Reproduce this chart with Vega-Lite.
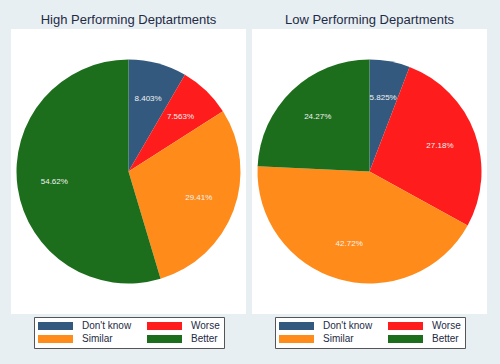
{
  "$schema": "https://vega.github.io/schema/vega-lite/v6.json",
  "background": "#e8eff2",
  "padding": {"left": 11, "top": 14, "right": 13, "bottom": 15},
  "datasets": {
    "high": [
      {"cat": "Don't know", "k": 1, "pct": 8.403, "lbl": "8.403%"},
      {"cat": "Worse", "k": 2, "pct": 7.563, "lbl": "7.563%"},
      {"cat": "Similar", "k": 3, "pct": 29.41, "lbl": "29.41%"},
      {"cat": "Better", "k": 4, "pct": 54.62, "lbl": "54.62%"}
    ],
    "low": [
      {"cat": "Don't know", "k": 1, "pct": 5.825, "lbl": "5.825%"},
      {"cat": "Worse", "k": 2, "pct": 27.18, "lbl": "27.18%"},
      {"cat": "Similar", "k": 3, "pct": 42.72, "lbl": "42.72%"},
      {"cat": "Better", "k": 4, "pct": 24.27, "lbl": "24.27%"}
    ]
  },
  "spacing": 6,
  "hconcat": [
    {
      "width": 235, "height": 285,
      "view": {"fill": "white", "stroke": null},
      "title": "High Performing Deptartments",
      "data": {"name": "high"},
      "encoding": {
        "theta": {"field": "pct", "type": "quantitative", "stack": true},
        "order": {"field": "k", "type": "quantitative"}
      },
      "layer": [
        {
          "mark": {"type": "arc", "outerRadius": 112},
          "encoding": {
            "color": {
              "field": "cat", "type": "nominal",
              "scale": {"domain": ["Don't know", "Worse", "Similar", "Better"], "range": ["#335a7e", "#ff1c1c", "#ff8c1a", "#1c6e1c"]},
              "legend": {"orient": "none", "legendX": 23, "legendY": 288}
            }
          }
        },
        {
          "mark": {"type": "text", "radius": 75, "fontSize": 8, "font": "Liberation Sans", "fill": "#f2f2f2"},
          "encoding": {"detail": {"field": "cat"}, "text": {"field": "lbl"}}
        }
      ]
    },
    {
      "width": 235, "height": 285,
      "view": {"fill": "white", "stroke": null},
      "title": "Low Performing Departments",
      "data": {"name": "low"},
      "encoding": {
        "theta": {"field": "pct", "type": "quantitative", "stack": true},
        "order": {"field": "k", "type": "quantitative"}
      },
      "layer": [
        {
          "mark": {"type": "arc", "outerRadius": 112},
          "encoding": {
            "color": {
              "field": "cat", "type": "nominal",
              "scale": {"domain": ["Don't know", "Worse", "Similar", "Better"], "range": ["#335a7e", "#ff1c1c", "#ff8c1a", "#1c6e1c"]},
              "legend": {"orient": "none", "legendX": 23, "legendY": 288}
            }
          }
        },
        {
          "mark": {"type": "text", "radius": 75, "fontSize": 8, "font": "Liberation Sans", "fill": "#f2f2f2"},
          "encoding": {"detail": {"field": "cat"}, "text": {"field": "lbl"}}
        }
      ]
    }
  ],
  "resolve": {"scale": {"color": "independent"}, "legend": {"color": "independent"}},
  "config": {
    "title": {"fontSize": 13, "font": "Liberation Sans", "fontWeight": "normal", "color": "#1e2b45", "offset": 2},
    "legend": {
      "title": null,
      "direction": "horizontal",
      "columns": 2,
      "symbolType": "M-1,-0.8H6V0.8H-1Z",
      "symbolSize": 100,
      "symbolStrokeWidth": 0,
      "labelFontSize": 10,
      "labelFont": "Liberation Sans",
      "labelColor": "#1e2b45",
      "fillColor": "white",
      "strokeColor": "#555555",
      "padding": 4,
      "columnPadding": 15,
      "rowPadding": 3,
      "labelOffset": 34,
      "gridAlign": "each"
    }
  }
}
